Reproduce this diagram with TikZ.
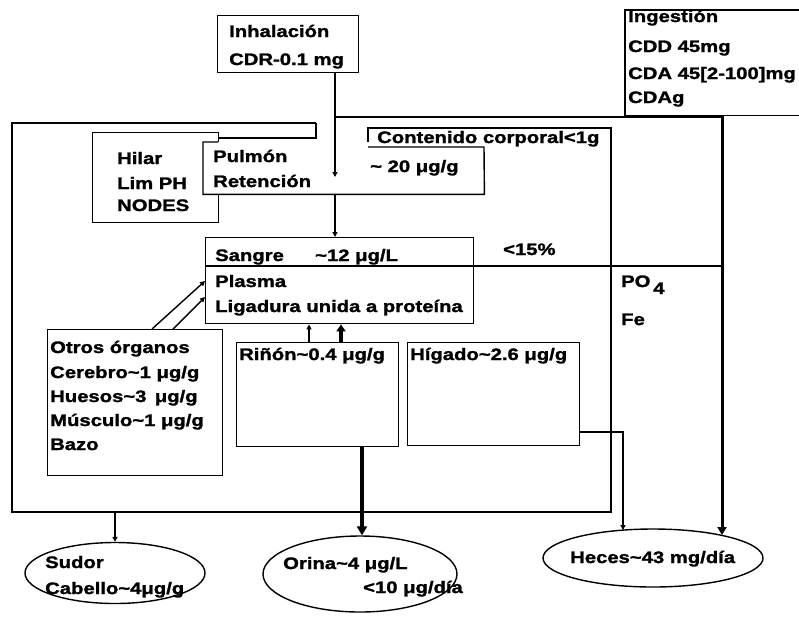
\documentclass[tikz,border=0pt]{standalone}
\usepackage{fontspec}
\setmainfont{Liberation Sans}[FakeStretch=1.22,BoldFeatures={FakeBold=1.5}]
\usetikzlibrary{arrows.meta,shapes.geometric}
\newcommand\apx{\textasciitilde}
\newcommand\lblfont{\fontsize{16.6}{19}\selectfont\bfseries}
\begin{document}
\begin{tikzpicture}[x=1pt,y=-1pt,
  txt/.style={anchor=base west,inner sep=0pt,font=\lblfont},
  ln/.style={line width=1.4pt},
  tip/.style={-{Triangle[length=5pt,width=5pt]}},
  bigtip/.style={-{Triangle[length=9pt,width=10pt]}},
  bx/.style={draw,line width=1.4pt,anchor=north west,inner sep=0pt},
  ov/.style={draw,line width=1.4pt,ellipse,inner sep=0pt},
]
\useasboundingbox (0,0) rectangle (799,622);
\fill[white] (0,0) rectangle (799,622);

% ---------- boxes ----------
\node[bx,minimum width=141pt,minimum height=57pt] (inh) at (217,15) {};
\node[anchor=north west,inner sep=0pt,minimum width=174pt,minimum height=105pt] (ing) at (625,10) {};
\draw[ln] (ing.north east) -- (ing.north west) -- (ing.south west) -- (ing.south east);

% body outline
\draw[ln] (316,123) -- (12,123) -- (12,512) -- (611,512) -- (611,128) -- (368,128) -- (368,147);
% bar
\draw[ln] (218,138) -- (316,138) -- (316,123);

\node[bx,minimum width=126pt,minimum height=90pt] (hil) at (92,132) {};
\node[anchor=north west,fill=white,inner sep=0pt,minimum width=281pt,minimum height=52pt] (pul) at (203,142) {};
\draw[ln] (218,142) -- (pul.north west) -- (pul.south west) -- (pul.south east) -- (484,147) -- (368,147);

\node[bx,minimum width=268pt,minimum height=86pt] (san) at (205,237) {};
\coordinate (divend) at (722,266);
\draw[ln] (san.west |- divend) -- (divend);

\node[bx,minimum width=175pt,minimum height=146pt] (otr) at (47,329) {};
\node[bx,minimum width=162pt,minimum height=104pt] (rin) at (236,342) {};
\node[bx,minimum width=172pt,minimum height=103pt] (hig) at (407,342) {};

\node[ov,minimum width=180pt,minimum height=61pt] (sud) at (115,573) {};
\node[ov,minimum width=194pt,minimum height=76pt] (ori) at (360,574) {};
\node[ov,minimum width=220pt,minimum height=58pt] (hec) at (653,558) {};

% ---------- connectors ----------
\coordinate (c1) at (335,177);
\draw[ln,tip] (inh.south -| c1) -- (c1);
\coordinate (c2) at (335,117);
\coordinate (ingx) at (722,117);
\draw[ln] (c2) -- (ingx);
\coordinate (hecin) at (722,535);
\draw[line width=3pt,-{Triangle[length=8pt,width=9pt]}] (ing.south -| ingx) -- (hecin);

\draw[ln,tip] (pul.south -| c1) -- (san.north -| c1);

\coordinate (o1) at (152,329);
\coordinate (o2) at (173,329);
\coordinate (s1) at (205,281);
\coordinate (s2) at (205,297);
\draw[ln,tip] (o1) -- (s1);
\draw[ln,tip] (o2) -- (s2);

\coordinate (r1) at (309,342);
\coordinate (r2) at (341,342);
\draw[ln,tip] (r1) -- (san.south -| r1);
\draw[line width=3.5pt,-{Triangle[length=7pt,width=9pt]}] (r2) -- (san.south -| r2);

\coordinate (r3) at (362,446);
\draw[line width=4.5pt,bigtip] (r3) -- (ori.north -| r3);

\coordinate (h1) at (579,432);
\coordinate (h2) at (623,432);
\coordinate (h3) at (623,530);
\draw[ln,tip] (h1) -- (h2) -- (h3);

\coordinate (b1) at (115,512);
\draw[ln,tip] (b1) -- (sud.north);

% ---------- texts ----------
\node[txt] (t1) at (229,37) {Inhalación};
\node[txt] (t2) at (229,65) {CDR-0.1 mg};
\node[txt] (t3) at (628,22) {Ingestión};
\node[txt] (t4) at (628,52) {CDD 45mg};
\node[txt] (t5) at (628,79) {CDA 45[2-100]mg};
\node[txt] (t6) at (628,103) {CDAg};
\node[txt] (t7) at (117,164) {Hilar};
\node[txt] (t8) at (117,189) {Lim PH};
\node[txt] (t9) at (117,211) {NODES};
\node[txt] (t10) at (213,162) {Pulmón};
\node[txt] (t11) at (213,187) {Retención};
\node[txt] (t12) at (377,143) {Contenido corporal<1g};
\node[txt] (t13) at (370,172) {\apx\ 20 μg/g};
\node[txt] (t14) at (215,261) {Sangre};
\node[txt] (t15) at (315,261) {\apx12 μg/L};
\node[txt] (t16) at (503,255) {<15\%};
\node[txt] (t17) at (215,287) {Plasma};
\node[txt] (t18) at (215,312) {Ligadura unida a proteína};
\node[txt] (t19) at (621,287) {PO\raisebox{-7pt}{\,4}};
\node[txt] (t20) at (621,325) {Fe};
\node[txt] (t21) at (50,353) {Otros órganos};
\node[txt] (t22) at (50,378) {Cerebro\apx1 μg/g};
\node[txt] (t23) at (50,402) {Huesos\apx3 \,μg/g};
\node[txt] (t24) at (50,426) {Músculo\apx1 μg/g};
\node[txt] (t25) at (50,450) {Bazo};
\node[txt] (t26) at (239,360) {Riñón\apx0.4 μg/g};
\node[txt] (t27) at (410,360) {Hígado\apx2.6 μg/g};
\node[txt] (t28) at (45,568) {Sudor};
\node[txt] (t29) at (45,594) {Cabello\apx4μg/g};
\node[txt] (t30) at (283,569) {Orina\apx4 μg/L};
\node[txt] (t31) at (363,593) {<10 μg/día};
\node[txt] (t32) at (570,563) {Heces\apx43 mg/día};
\end{tikzpicture}
\end{document}
